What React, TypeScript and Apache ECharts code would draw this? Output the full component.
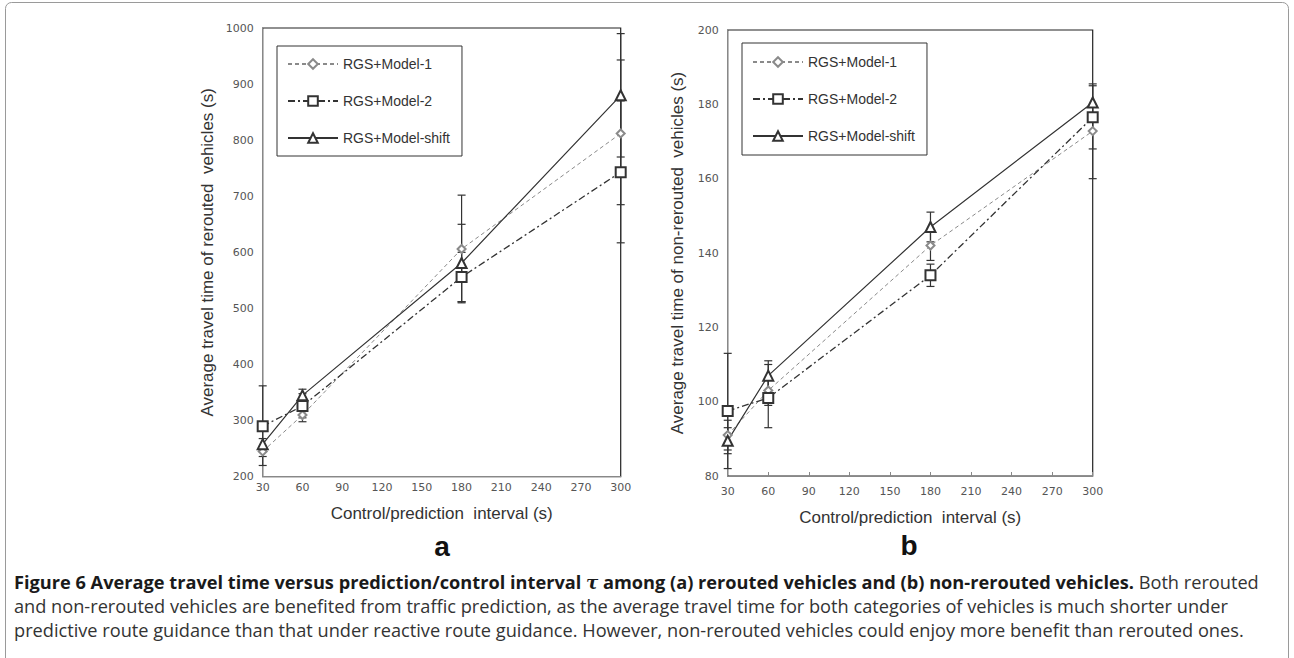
import React, { useEffect, useRef } from 'react';
import * as echarts from 'echarts';

// ---- data ----
const intervals = [30, 60, 180, 300];
const seriesNames = ['RGS+Model-1', 'RGS+Model-2', 'RGS+Model-shift'];

// (a) rerouted vehicles
const reroutedModel1 = [245, 310, 606, 812];
const reroutedModel2 = [290, 326, 556, 743];
const reroutedShift = [258, 345, 581, 880];
const reroutedModel1Low = [236, 298, 512, 685];
const reroutedModel1High = [254, 322, 702, 943];
const reroutedModel2Low = [220, 305, 510, 617];
const reroutedModel2High = [362, 348, 600, 870];
const reroutedShiftLow = [248, 336, 512, 770];
const reroutedShiftHigh = [268, 356, 650, 990];

// (b) non-rerouted vehicles
const nonReroutedModel1 = [91, 103, 142, 172.8];
const nonReroutedModel2 = [97.5, 101, 134, 176.5];
const nonReroutedShift = [89.5, 107, 147, 180.5];
const nonReroutedModel1Low = [87, 99, 138, 160];
const nonReroutedModel1High = [95, 106, 146, 177];
const nonReroutedModel2Low = [82, 93, 131, 168];
const nonReroutedModel2High = [113, 110, 137, 185.5];
const nonReroutedShiftLow = [86, 103, 143, 176];
const nonReroutedShiftHigh = [93, 111, 151, 185];

const xTicks = { min: 30, max: 300, interval: 30 };
const yTicksA = { min: 200, max: 1000, interval: 100 };
const yTicksB = { min: 80, max: 200, interval: 20 };

const captionBold =
  'Figure 6 Average travel time versus prediction/control interval ';
const captionBold2 = ' among (a) rerouted vehicles and (b) non-rerouted vehicles.';
const captionLine1Rest = ' Both rerouted';
const captionLine2 =
  'and non-rerouted vehicles are benefited from traffic prediction, as the average travel time for both categories of vehicles is much shorter under';
const captionLine3 =
  'predictive route guidance than that under reactive route guidance. However, non-rerouted vehicles could enjoy more benefit than rerouted ones.';

const ARIAL = 'Liberation Sans, Arial, sans-serif';
const TICKFONT = 'DejaVu Sans, Verdana, sans-serif';
const CAPFONT = 'Open Sans, Noto Sans, sans-serif';
const CAPSIZE = 18.2;

const lineStyles = [
  { color: '#8a8a8a', width: 1, type: [4, 3] as any },
  { color: '#333', width: 1.3, type: [7, 3, 2, 3] as any },
  { color: '#333', width: 1.2, type: 'solid' as any },
];
const symbols = ['emptyDiamond', 'emptyRect', 'emptyTriangle'];
const symbolSizes = [8, 10, 10];

function errRender(params: any, api: any) {
  const x = api.value(0);
  const p1 = api.coord([x, api.value(1)]);
  const p2 = api.coord([x, api.value(2)]);
  const w = 4;
  const style = { stroke: '#333', lineWidth: 1.2 };
  return {
    type: 'group',
    children: [
      { type: 'line', shape: { x1: p1[0], y1: p1[1], x2: p2[0], y2: p2[1] }, style },
      { type: 'line', shape: { x1: p1[0] - w, y1: p1[1], x2: p1[0] + w, y2: p1[1] }, style },
      { type: 'line', shape: { x1: p2[0] - w, y1: p2[1], x2: p2[0] + w, y2: p2[1] }, style },
    ],
  };
}

function makeLine(name: string, values: number[], idx: number, gi: number) {
  return {
    type: 'line',
    name,
    xAxisIndex: gi,
    yAxisIndex: gi,
    data: intervals.map((x, i) => [x, values[i]]),
    symbol: symbols[idx],
    symbolSize: symbolSizes[idx],
    showSymbol: true,
    lineStyle: lineStyles[idx],
    itemStyle: { color: lineStyles[idx].color, borderWidth: 1.2 },
    z: 3,
  };
}

function makeErr(lo: number[], hi: number[], gi: number) {
  return {
    type: 'custom',
    xAxisIndex: gi,
    yAxisIndex: gi,
    renderItem: errRender,
    data: intervals.map((x, i) => [x, lo[i], hi[i]]),
    encode: { x: 0, y: [1, 2] },
    clip: false,
    silent: true,
    z: 2,
  };
}

export default function App() {
  const ref = useRef<HTMLDivElement>(null);
  useEffect(() => {
    if (!ref.current) return;
    const chart = echarts.init(ref.current, undefined, { renderer: 'svg' });
    const axisLabel = {
      color: '#555', fontSize: 11, fontFamily: TICKFONT,
      formatter: (v: number) => String(v),
    };
    const nameStyle = { color: '#333', fontSize: 17, fontFamily: ARIAL };
    const legendBase = {
      orient: 'vertical',
      data: seriesNames,
      itemWidth: 50,
      itemHeight: 12,
      itemGap: 23,
      borderColor: '#333',
      borderWidth: 1,
      backgroundColor: '#fff',
      textStyle: { fontSize: 14, fontFamily: ARIAL, color: '#333', lineHeight: 14 },
      selectedMode: false,
    };
    chart.setOption({
      animation: false,
      backgroundColor: '#fff',
      grid: [
        { left: 262.7, right: 673.3, top: 28, bottom: 181.3, show: true, borderColor: '#222', borderWidth: 1.2 },
        { left: 727.7, right: 201.3, top: 30, bottom: 182, show: true, borderColor: '#222', borderWidth: 1.2 },
      ],
      xAxis: [
        {
          type: 'value', gridIndex: 0, ...xTicks,
          name: 'Control/prediction  interval (s)', nameLocation: 'middle', nameGap: 28,
          nameTextStyle: nameStyle,
          axisLine: { lineStyle: { color: '#888' } },
          axisTick: { show: false },
          axisLabel: { ...axisLabel, margin: 5 },
          splitLine: { show: false },
        },
        {
          type: 'value', gridIndex: 1, ...xTicks,
          name: 'Control/prediction  interval (s)', nameLocation: 'middle', nameGap: 33,
          nameTextStyle: nameStyle,
          axisLine: { lineStyle: { color: '#888' } },
          axisTick: { show: true, inside: true, length: 4, lineStyle: { color: '#888' } },
          axisLabel: { ...axisLabel, margin: 10 },
          splitLine: { show: false },
        },
      ],
      yAxis: [
        {
          type: 'value', gridIndex: 0, ...yTicksA,
          name: 'Average travel time of rerouted  vehicles (s)', nameLocation: 'middle', nameGap: 47,
          nameTextStyle: nameStyle,
          axisLine: { show: true, lineStyle: { color: '#888' } },
          axisTick: { show: false },
          axisLabel: { ...axisLabel, margin: 9 },
          splitLine: { show: false },
        },
        {
          type: 'value', gridIndex: 1, ...yTicksB,
          name: 'Average travel time of non-rerouted  vehicles (s)', nameLocation: 'middle', nameGap: 42,
          nameTextStyle: nameStyle,
          axisLine: { show: true, lineStyle: { color: '#888' } },
          axisTick: { show: false },
          axisLabel: { ...axisLabel, margin: 9 },
          splitLine: { show: false },
        },
      ],
      legend: [
        { ...legendBase, left: 277, top: 46, padding: [11, 12, 11, 10] },
        { ...legendBase, left: 742, top: 43, padding: [12, 12, 12, 10] },
      ],
      series: [
        makeErr(reroutedModel1Low, reroutedModel1High, 0),
        makeErr(reroutedModel2Low, reroutedModel2High, 0),
        makeErr(reroutedShiftLow, reroutedShiftHigh, 0),
        makeLine(seriesNames[0], reroutedModel1, 0, 0),
        makeLine(seriesNames[1], reroutedModel2, 1, 0),
        makeLine(seriesNames[2], reroutedShift, 2, 0),
        makeErr(nonReroutedModel1Low, nonReroutedModel1High, 1),
        makeErr(nonReroutedModel2Low, nonReroutedModel2High, 1),
        makeErr(nonReroutedShiftLow, nonReroutedShiftHigh, 1),
        makeLine(seriesNames[0], nonReroutedModel1, 0, 1),
        makeLine(seriesNames[1], nonReroutedModel2, 1, 1),
        makeLine(seriesNames[2], nonReroutedShift, 2, 1),
      ],
      graphic: [
        {
          type: 'rect', silent: true,
          shape: { x: 5.5, y: 2.5, width: 1283, height: 720, r: 6 },
          style: { fill: 'none', stroke: '#9a9a9a', lineWidth: 1 },
        },
        {
          type: 'text', x: 442, y: 546,
          style: { text: 'a', font: `bold 28px ${ARIAL}`, fill: '#111', align: 'center', verticalAlign: 'middle' },
        },
        {
          type: 'text', x: 909, y: 545,
          style: { text: 'b', font: `bold 28px ${ARIAL}`, fill: '#111', align: 'center', verticalAlign: 'middle' },
        },
        {
          type: 'text', x: 14, y: 582,
          style: {
            text: `{b|${captionBold}}{t|τ}{b|${captionBold2}}{r|${captionLine1Rest}}`,
            verticalAlign: 'middle',
            rich: {
              b: { fontFamily: CAPFONT, fontWeight: 'bold', fontSize: CAPSIZE, fill: '#1a1a1a' },
              t: { fontFamily: 'DejaVu Serif, serif', fontStyle: 'italic', fontWeight: 'bold', fontSize: CAPSIZE, fill: '#1a1a1a' },
              r: { fontFamily: CAPFONT, fontSize: CAPSIZE, fill: '#333' },
            },
          },
        },
        {
          type: 'text', x: 14, y: 606,
          style: { text: captionLine2, font: `${CAPSIZE}px ${CAPFONT}`, fill: '#333', verticalAlign: 'middle' },
        },
        {
          type: 'text', x: 14, y: 630,
          style: { text: captionLine3, font: `${CAPSIZE}px ${CAPFONT}`, fill: '#333', verticalAlign: 'middle' },
        },
      ],
    });
    return () => chart.dispose();
  }, []);
  return (
    <div
      ref={ref}
      style={{ position: 'absolute', left: 0, top: 0, width: 1294, height: 658, background: '#fff' }}
    />
  );
}
